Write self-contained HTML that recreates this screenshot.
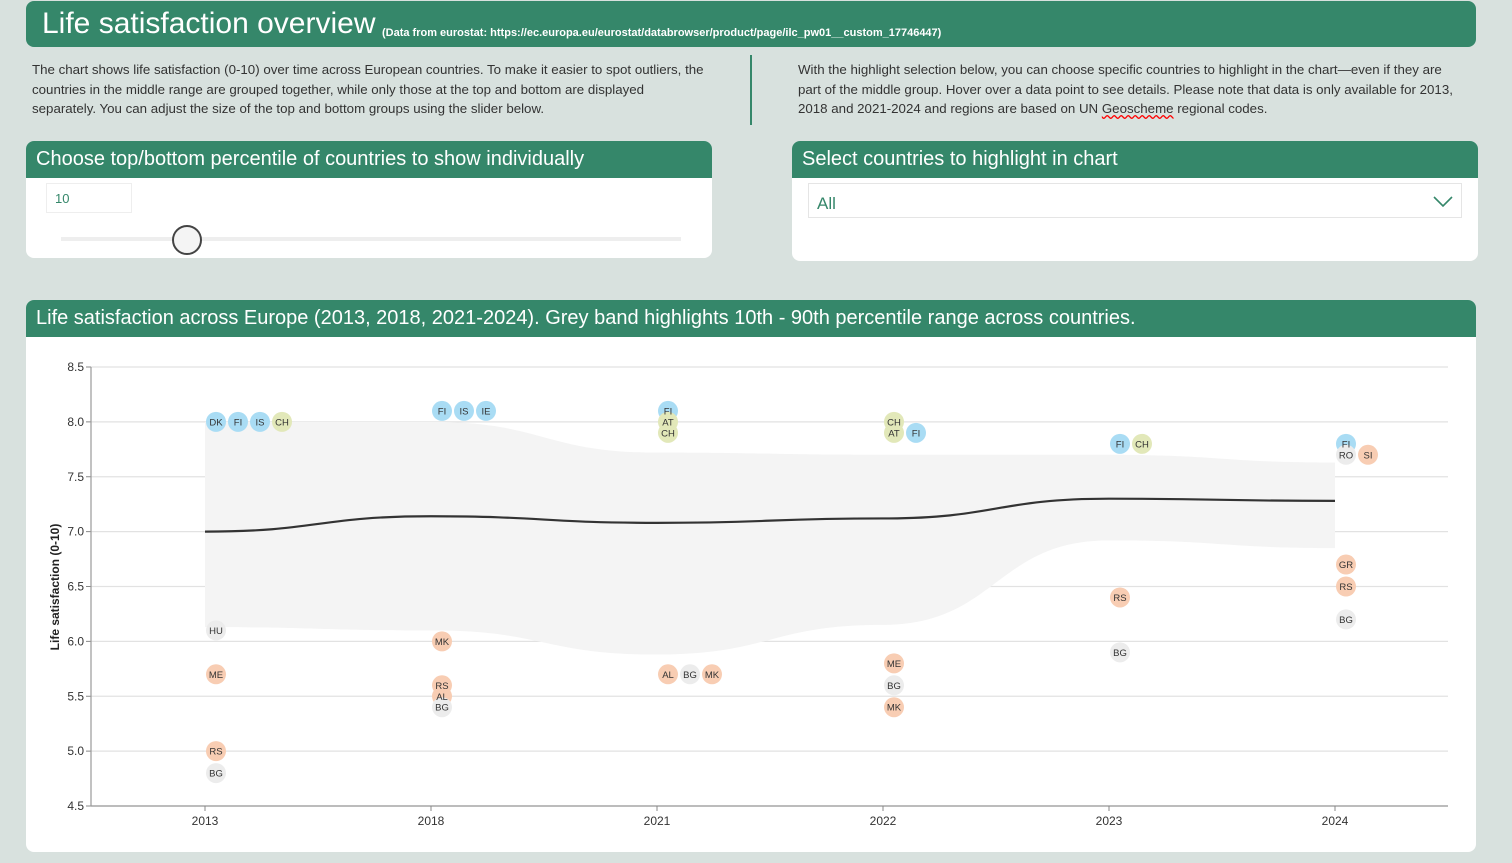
<!DOCTYPE html>
<html><head><meta charset="utf-8"><style>
body{margin:0;width:1512px;height:863px;background:#d8e1de;font-family:"Liberation Sans",sans-serif;position:relative;overflow:hidden}
.abs{position:absolute}
.green{background:#35876a;color:#fff}
.card{background:#fff;border-radius:8px;position:absolute;overflow:hidden}
.cardh{height:37px;line-height:37px;padding-left:10px;font-size:20px;color:#fff;background:#35876a}
.txt{font-size:13.3px;color:#333;line-height:19.5px}
</style></head><body>
<div class="abs green" style="left:26px;top:1px;width:1450px;height:46px;border-radius:8px">
<span style="position:absolute;left:16px;top:6px;font-size:30px">Life satisfaction overview</span>
<span style="position:absolute;left:356px;top:26px;font-size:11px;font-weight:bold">(Data from eurostat: https://ec.europa.eu/eurostat/databrowser/product/page/ilc_pw01__custom_17746447)</span>
</div>
<div class="abs txt" style="left:32px;top:60px;width:672px">The chart shows life satisfaction (0-10) over time across European countries. To make it easier to spot outliers, the countries in the middle range are grouped together, while only those at the top and bottom are displayed separately. You can adjust the size of the top and bottom groups using the slider below.</div>
<div class="abs" style="left:750px;top:55px;width:2px;height:70px;background:#35876a"></div>
<div class="abs txt" style="left:798px;top:60px;width:665px">With the highlight selection below, you can choose specific countries to highlight in the chart—even if they are part of the middle group. Hover over a data point to see details. Please note that data is only available for 2013, 2018 and 2021-2024 and regions are based on UN <span style="text-decoration:underline wavy red">Geoscheme</span> regional codes.</div>
<div class="card" style="left:26px;top:141px;width:686px;height:117px">
<div class="cardh">Choose top/bottom percentile of countries to show individually</div>
<div class="abs" style="left:20px;top:42px;width:86px;height:30px;border:1px solid #eee;font-size:13px;color:#35876a;line-height:30px;padding-left:8px;box-sizing:border-box">10</div>
<div class="abs" style="left:35px;top:96px;width:620px;height:4px;background:#eee"></div>
<div class="abs" style="left:146px;top:84px;width:30px;height:30px;border:2px solid #444;border-radius:50%;background:#f4f4f4;box-sizing:border-box"></div>
</div>
<div class="card" style="left:792px;top:141px;width:686px;height:120px">
<div class="cardh">Select countries to highlight in chart</div>
<div class="abs" style="left:16px;top:42px;width:654px;height:35px;border:1px solid #e5e5e5;box-sizing:border-box;font-size:17px;color:#35876a;line-height:40px;padding-left:8px">All
<svg style="position:absolute;right:8px;top:12px" width="20" height="12"><polyline points="1,1 10,10 19,1" fill="none" stroke="#35876a" stroke-width="1.6"/></svg></div>
</div>
<div class="card" style="left:26px;top:300px;width:1450px;height:552px">
<div class="cardh">Life satisfaction across Europe (2013, 2018, 2021-2024). Grey band highlights 10th - 90th percentile range across countries.</div>
</div>
<svg class="abs" id="chart" style="left:0;top:0" width="1512" height="863" font-family="Liberation Sans, sans-serif"></svg>
<script>
const years=["2013","2018","2021","2022","2023","2024"];
const median=[7.0,7.14,7.08,7.12,7.3,7.28];
const p90=[8.0,8.0,7.72,7.7,7.7,7.63];
const p10=[6.13,6.1,5.88,6.15,6.92,6.85];
const yTicks=[4.5,5.0,5.5,6.0,6.5,7.0,7.5,8.0,8.5];
const ptYear=["2013","2013","2013","2013","2013","2013","2013","2013","2018","2018","2018","2018","2018","2018","2018","2021","2021","2021","2021","2021","2021","2022","2022","2022","2022","2022","2022","2023","2023","2023","2023","2024","2024","2024","2024","2024","2024"];
const ptCode=["DK","FI","IS","CH","HU","ME","RS","BG","FI","IS","IE","MK","RS","AL","BG","FI","AT","CH","AL","BG","MK","CH","AT","FI","ME","BG","MK","FI","CH","RS","BG","FI","RO","SI","GR","RS","BG"];
const ptVal=[8.0,8.0,8.0,8.0,6.1,5.7,5.0,4.8,8.1,8.1,8.1,6.0,5.6,5.5,5.4,8.1,8.0,7.9,5.7,5.7,5.7,8.0,7.9,7.9,5.8,5.6,5.4,7.8,7.8,6.4,5.9,7.8,7.7,7.7,6.7,6.5,6.2];
const regionColor={N:"#a9dcf4",W:"#e2e8b9",S:"#f8cdb3",E:"#ececec"};
const codeRegion={DK:"N",FI:"N",IS:"N",IE:"N",CH:"W",AT:"W",HU:"E",BG:"E",RO:"E",ME:"S",RS:"S",AL:"S",MK:"S",GR:"S",SI:"S"};
const NS="http://www.w3.org/2000/svg";
const svg=document.getElementById('chart');
const X0=205,XS=226,Y0=806,YS=109.75;
const x=i=>X0+i*XS, y=v=>Y0-(v-4.5)*YS;
function mk(t,a,p){const e=document.createElementNS(NS,t);for(const k in a)e.setAttribute(k,a[k]);(p||svg).appendChild(e);return e;}
function curve(vals,move){let d=(move?"M":"L")+x(0)+","+y(vals[0]);for(let i=1;i<vals.length;i++){const mx=(x(i-1)+x(i))/2;d+=`C${mx},${y(vals[i-1])} ${mx},${y(vals[i])} ${x(i)},${y(vals[i])}`;}return d;}
function curveRev(vals){let n=vals.length-1;let d="L"+x(n)+","+y(vals[n]);for(let i=n-1;i>=0;i--){const mx=(x(i+1)+x(i))/2;d+=`C${mx},${y(vals[i+1])} ${mx},${y(vals[i])} ${x(i)},${y(vals[i])}`;}return d;}
yTicks.forEach(v=>{
 const g=mk('line',{x1:91,x2:1448,y1:y(v),y2:y(v),stroke:'#e2e2e2','stroke-width':1.3});
 
 
 mk('line',{x1:86,x2:91,y1:y(v),y2:y(v),stroke:'#888'});
 const l=mk('text',{x:84,y:y(v)+4,'text-anchor':'end','font-size':12,fill:'#333'});l.textContent=v.toFixed(1);
 
 
});
const band=mk('path',{d:curve(p90,true)+curveRev(p10)+"Z",fill:'#f4f4f4'});


const ax=mk('line',{x1:91,x2:91,y1:y(8.5),y2:Y0,stroke:'#999','stroke-width':1.2});


const bx=mk('line',{x1:91,x2:1448,y1:Y0,y2:Y0,stroke:'#999','stroke-width':1.2});


years.forEach((yr,i)=>{
 mk('line',{x1:x(i),x2:x(i),y1:Y0,y2:Y0+5,stroke:'#888'});
 const l=mk('text',{x:x(i),y:Y0+19,'text-anchor':'middle','font-size':12,fill:'#333'});l.textContent=yr;
 
 
});
const yt=mk('text',{transform:'translate(59,587) rotate(-90)','text-anchor':'middle','font-size':12,'font-weight':'bold',fill:'#222'});yt.textContent='Life satisfaction (0-10)';


const ml=mk('path',{d:curve(median,true),fill:'none',stroke:'#333','stroke-width':2.2});


const seen={};const pos=[];
ptCode.forEach((c,k)=>{
 const i=years.indexOf(ptYear[k]);const key=ptYear[k]+"_"+ptVal[k];const n=seen[key]||0;seen[key]=n+1;
 pos.push([x(i)+11+n*22,y(ptVal[k])]);
});
ptCode.forEach((c,k)=>{
 const ci=mk('circle',{cx:pos[k][0],cy:pos[k][1],r:10,fill:regionColor[codeRegion[c]]});
 
 
});
ptCode.forEach((c,k)=>{
 const t=mk('text',{x:pos[k][0],y:pos[k][1]+3.5,'text-anchor':'middle','font-size':9.5,fill:'#333'});t.textContent=c;
 
 
});
</script>
</body></html>
